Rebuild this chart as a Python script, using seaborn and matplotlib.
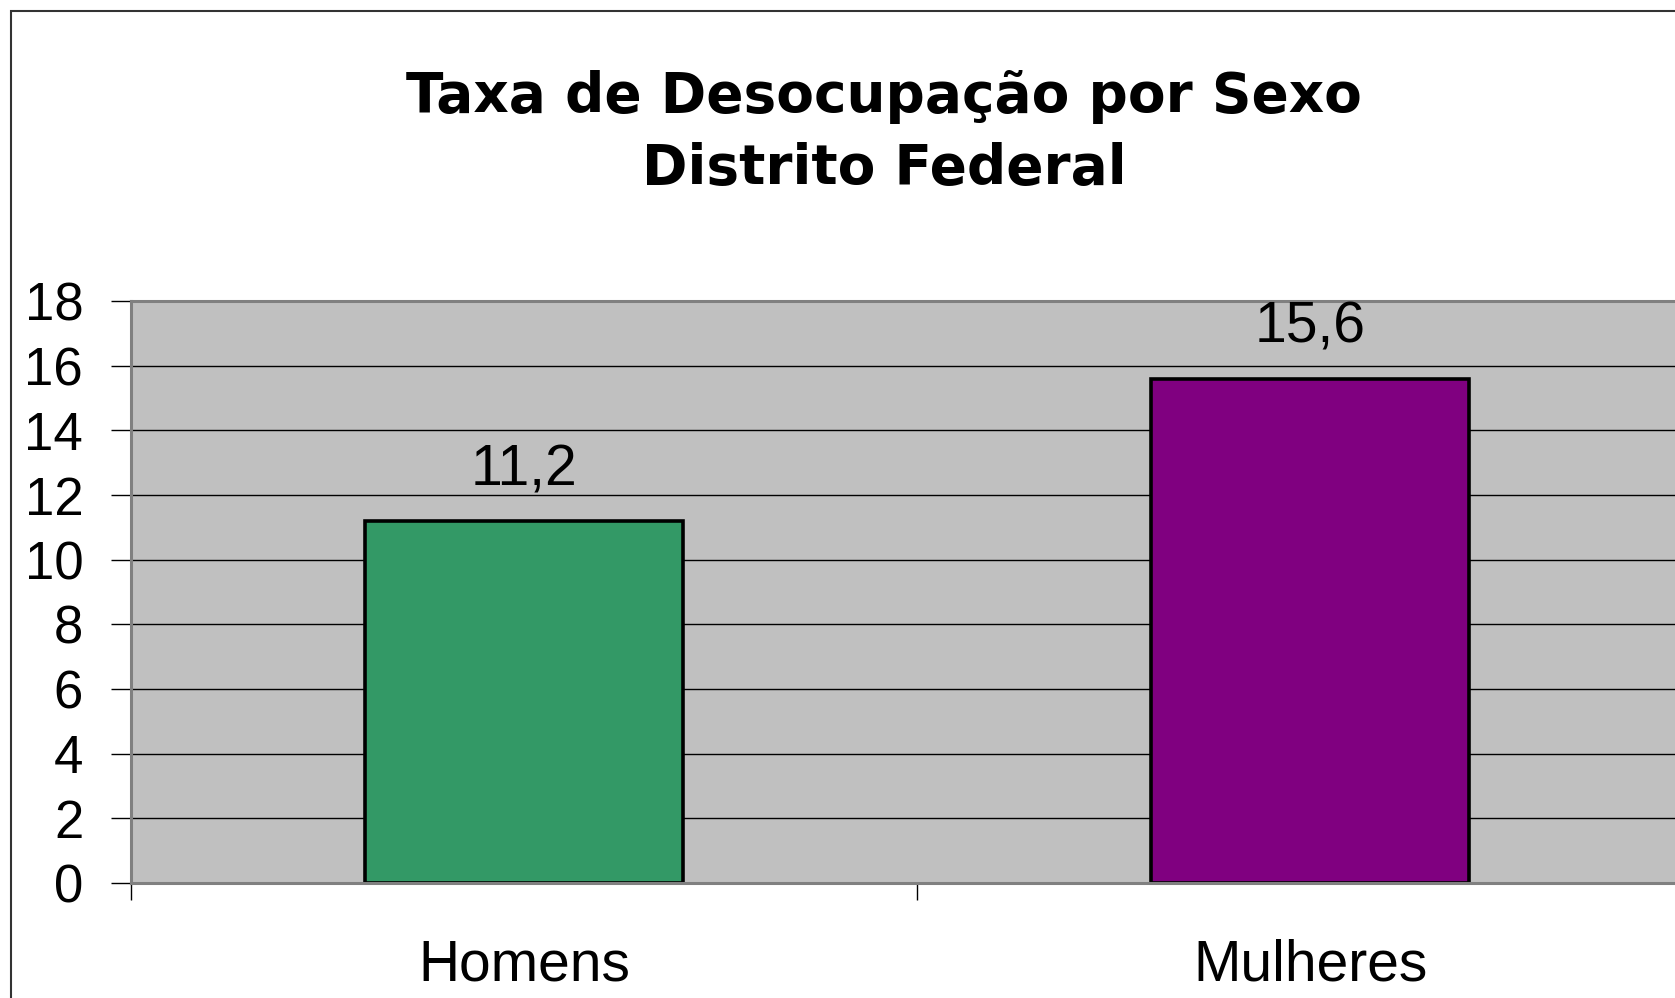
import matplotlib
matplotlib.use("Agg")
import matplotlib.pyplot as plt
import matplotlib.patches as mpatches
from matplotlib.ticker import MultipleLocator, FixedLocator
import seaborn as sns
import pandas as pd

# Data
categories = ["Homens", "Mulheres"]
values = [11.2, 15.6]
bar_colors = ["#339966", "#800080"]
title_lines = ["Taxa de Desocupação por Sexo", "Distrito Federal"]

sns.set_style("white")
plt.rcParams["font.family"] = ["Liberation Sans", "DejaVu Sans"]
plt.rcParams["text.color"] = "black"
plt.rcParams["xtick.color"] = "black"
plt.rcParams["ytick.color"] = "black"
plt.rcParams["xtick.labelcolor"] = "black"
plt.rcParams["ytick.labelcolor"] = "black"

df = pd.DataFrame({"Sexo": categories, "Taxa": values})

W, H = 1675, 998
fig = plt.figure(figsize=(W / 100, H / 100), dpi=100)
fig.patch.set_facecolor("white")

ax = fig.add_axes([131 / W, 1 - 883 / H, 1572 / W, 582 / H])
sns.barplot(data=df, x="Sexo", y="Taxa", hue="Sexo", palette=bar_colors,
            order=categories, hue_order=categories, width=0.405,
            edgecolor="black", linewidth=2.6, saturation=1, legend=False, ax=ax)

ax.set_facecolor("#C0C0C0")
ax.set_xlim(-0.5, 1.5)
ax.set_ylim(0, 18)
ax.yaxis.set_major_locator(MultipleLocator(2))
ax.set_axisbelow(True)
ax.yaxis.grid(True, color="black", linewidth=1.0)
ax.xaxis.grid(False)

for s in ["left", "bottom", "top"]:
    ax.spines[s].set_visible(True)
    ax.spines[s].set_color("#808080")
    ax.spines[s].set_linewidth(2.2)
ax.spines["right"].set_visible(False)

ax.set_xlabel("")
ax.set_ylabel("")

# y ticks
ax.tick_params(axis="y", which="major", length=14.4, width=1, color="black",
               pad=20, labelsize=38, left=True, labelcolor="black")
# x: labels at category centers, tick marks at boundaries
ax.tick_params(axis="x", which="major", length=0, pad=40, labelsize=41,
               labelcolor="black")
ax.xaxis.set_minor_locator(FixedLocator([-0.5, 0.5, 1.5]))
ax.tick_params(axis="x", which="minor", length=12.5, width=1, color="black",
               bottom=True)

# value labels
for cont, v in zip(ax.containers, values):
    ax.bar_label(cont, labels=[f"{v:.1f}".replace(".", ",")], padding=17,
                 fontsize=41, color="black")

# title
fig.text(884 / W, 1 - 70 / H, "\n".join(title_lines), ha="center", va="top",
         fontsize=39.5, fontweight="bold", linespacing=1.42, color="black",
         family=["DejaVu Sans"])

# outer chart border
border = mpatches.Rectangle((11 / W, -1), 2, 1 - 11 / H + 1,
                            transform=fig.transFigure, fill=False,
                            edgecolor="#333333", linewidth=1.5)
fig.patches.append(border)

fig.savefig("out.png", dpi=100)
